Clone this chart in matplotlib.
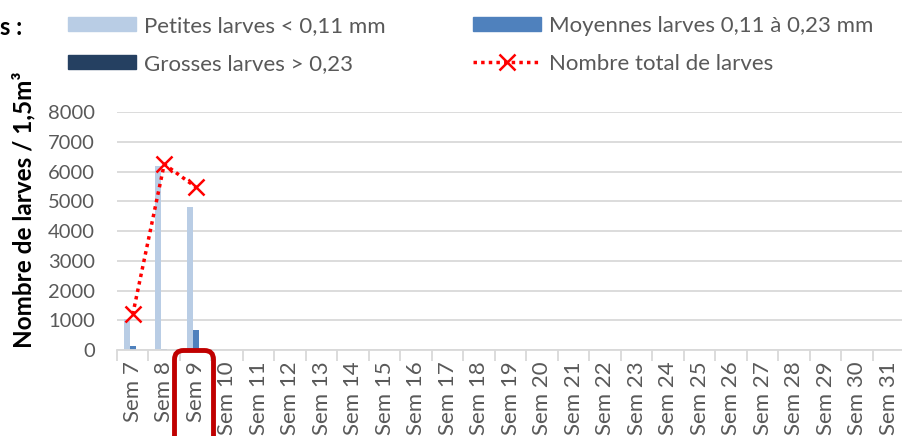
import numpy as np
import matplotlib
matplotlib.use("Agg")
import matplotlib.pyplot as plt
from matplotlib.patches import FancyBboxPatch, Patch
from matplotlib.lines import Line2D

plt.rcParams["font.family"] = ["Lato", "DejaVu Sans"]

weeks = [f"Sem {i}" for i in range(7, 32)]
petites = [1050, 6200, 4800] + [np.nan] * 22
moyennes = [150, 50, 680] + [np.nan] * 22
grosses = [0, 0, 0] + [np.nan] * 22
total = [1200, 6250, 5480] + [np.nan] * 22

c_pet = "#B9CDE5"
c_moy = "#4F81BD"
c_gro = "#254061"
c_tot = "#FF0000"
grey = "#595959"
dots = (0, (1, 1.2))

fig = plt.figure(figsize=(9.02, 4.36), dpi=100)
ax = fig.add_axes([117 / 902, 0.197, 787.5 / 902, 0.546])

x = np.arange(len(weeks))
w = 0.19
ax.bar(x - w, petites, w, color=c_pet, zorder=2)
ax.bar(x, moyennes, w, color=c_moy, zorder=2)
ax.bar(x + w, grosses, w, color=c_gro, zorder=2)
ax.plot(x, total, color=c_tot, linestyle=dots, linewidth=2.5, marker="x",
        markersize=11, markeredgewidth=1.8, zorder=3)

ax.set_xlim(-0.5, len(weeks) - 0.5)
ax.set_ylim(0, 8000)
ax.set_yticks(range(0, 8001, 1000))
ax.yaxis.grid(True, color="#D9D9D9", linewidth=1.3, zorder=0)
ax.set_axisbelow(True)
for s in ["top", "right", "left"]:
    ax.spines[s].set_visible(False)
ax.spines["bottom"].set_color("#D9D9D9")
ax.spines["bottom"].set_linewidth(1.3)

ax.set_xticks(x)
ax.set_xticklabels(weeks, rotation=90, color=grey, fontsize=16)
ax.tick_params(axis="x", length=0, pad=8)
ax.set_xticks(np.arange(-0.5, len(weeks), 1), minor=True)
ax.tick_params(axis="x", which="minor", length=8, color="#D9D9D9", width=1.3)
ax.tick_params(axis="y", length=0, labelcolor=grey, labelsize=14.5, pad=16)

fig.text(24 / 902, 0.518, "Nombre de larves / 1,5m³", rotation=90, fontsize=17.5,
         fontweight="bold", ha="center", va="center")
fig.text(0.0, 0.938, "s :", fontsize=17, fontweight="bold", ha="left", va="center")

handles = [
    Patch(color=c_pet),
    Patch(color=c_gro),
    Patch(color=c_moy),
    Line2D([], [], color=c_tot, linestyle=dots, linewidth=2.5, marker="x",
           markersize=11, markeredgewidth=1.8),
]
labels = ["Petites larves < 0,11 mm", "Grosses larves > 0,23",
          "Moyennes larves 0,11 à 0,23 mm", "Nombre total de larves"]
leg = fig.legend(handles, labels, ncol=2, loc="upper left",
                 bbox_to_anchor=(0.0533, 1.0096), frameon=False, fontsize=16,
                 handlelength=3.06, handleheight=0.63, handletextpad=0.36,
                 labelspacing=0.82, columnspacing=3.95)
for t in leg.get_texts():
    t.set_color(grey)

# red rounded frame around the Sem 9 label (inches)
box = FancyBboxPatch((1.745, -0.2), 0.39, 1.055,
                     boxstyle="round,pad=0,rounding_size=0.09",
                     transform=fig.dpi_scale_trans, fill=False,
                     edgecolor="#C00000", linewidth=3.5, clip_on=False)
fig.add_artist(box)

fig.savefig("out.png", dpi=100)
